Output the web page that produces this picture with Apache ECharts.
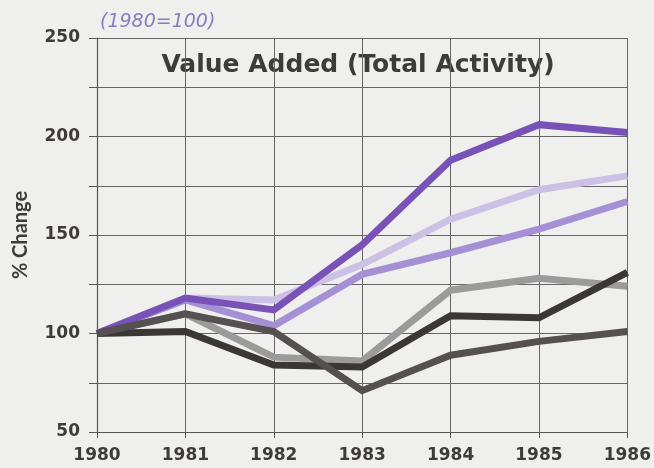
<!DOCTYPE html>
<html>
<head>
<meta charset="utf-8">
<script src="https://cdn.jsdelivr.net/npm/echarts@6/dist/echarts.min.js"></script>
<style>
html, body { margin: 0; padding: 0; background: #efefed; }
#chart { width: 654px; height: 468px; }
</style>
</head>
<body>
<div id="chart"></div>
<script>
var years = ['1980', '1981', '1982', '1983', '1984', '1985', '1986'];
var purpleDark = [100, 118, 112, 145, 188, 206, 202];
var lavenderPale = [100, 118, 117, 135, 158, 173, 180];
var lavenderMid = [100, 117, 104, 130, 141, 153, 167];
var greyMid = [100, 110, 88, 86, 122, 128, 124];
var blackish = [100, 101, 84, 83, 109, 108, 131];
var greyDark = [100, 110, 101, 71, 89, 96, 101];

var myChart = echarts.init(document.getElementById('chart'));

function line(name, data, color) {
    return {
        name: name,
        type: 'line',
        data: data,
        showSymbol: false,
        symbol: 'none',
        lineStyle: { width: 7, color: color, join: 'miter' },
        itemStyle: { color: color },
        animation: false
    };
}

var option = {
    backgroundColor: '#efefed',
    textStyle: { fontFamily: 'DejaVu Sans' },
    grid: { left: 97, right: 25, top: 38, bottom: 36 },
    graphic: [
        {
            type: 'text', x: 100, y: 22,
            style: {
                text: '(1980=100)', font: 'italic 200 19px "DejaVu Sans"',
                fill: '#8a7cc0', verticalAlign: 'middle'
            }
        },
        {
            type: 'text', x: 358, y: 65,
            style: {
                text: 'Value Added (Total Activity)', font: 'bold 25px "DejaVu Sans"',
                fill: '#3d3b3b', align: 'center', verticalAlign: 'middle'
            }
        }
    ],
    xAxis: {
        type: 'category',
        data: years,
        boundaryGap: false,
        axisLine: { lineStyle: { color: '#555', width: 1.2 } },
        axisTick: { show: true, length: 6, lineStyle: { color: '#555' } },
        axisLabel: { color: '#3d3b3b', fontSize: 17, fontWeight: 'bold', margin: 15 },
        splitLine: { show: true, lineStyle: { color: '#666', width: 1 } }
    },
    yAxis: {
        type: 'value',
        min: 50, max: 250, interval: 25,
        name: '% Change',
        nameLocation: 'middle',
        nameGap: 66,
        nameRotate: 90,
        nameTextStyle: { color: '#3d3b3b', fontSize: 20, fontWeight: 'bold', fontFamily: 'Lato' },
        axisLine: { show: true, lineStyle: { color: '#555', width: 1.2 } },
        axisTick: { show: true, length: 8, lineStyle: { color: '#555' } },
        axisLabel: {
            color: '#3d3b3b', fontSize: 17, fontWeight: 'bold', margin: 17,
            formatter: function (v) { return v % 50 === 0 ? v : ''; }
        },
        splitLine: { show: true, lineStyle: { color: '#666', width: 1 } }
    },
    series: [
        line('grey', greyMid, '#9b9b9b'),
        line('pale', lavenderPale, '#cbc1e4'),
        line('mid', lavenderMid, '#a590d6'),
        line('purple', purpleDark, '#7852b6'),
        line('black', blackish, '#3b3735'),
        line('darkgrey', greyDark, '#545150')
    ]
};
myChart.setOption(option);
</script>
</body>
</html>
